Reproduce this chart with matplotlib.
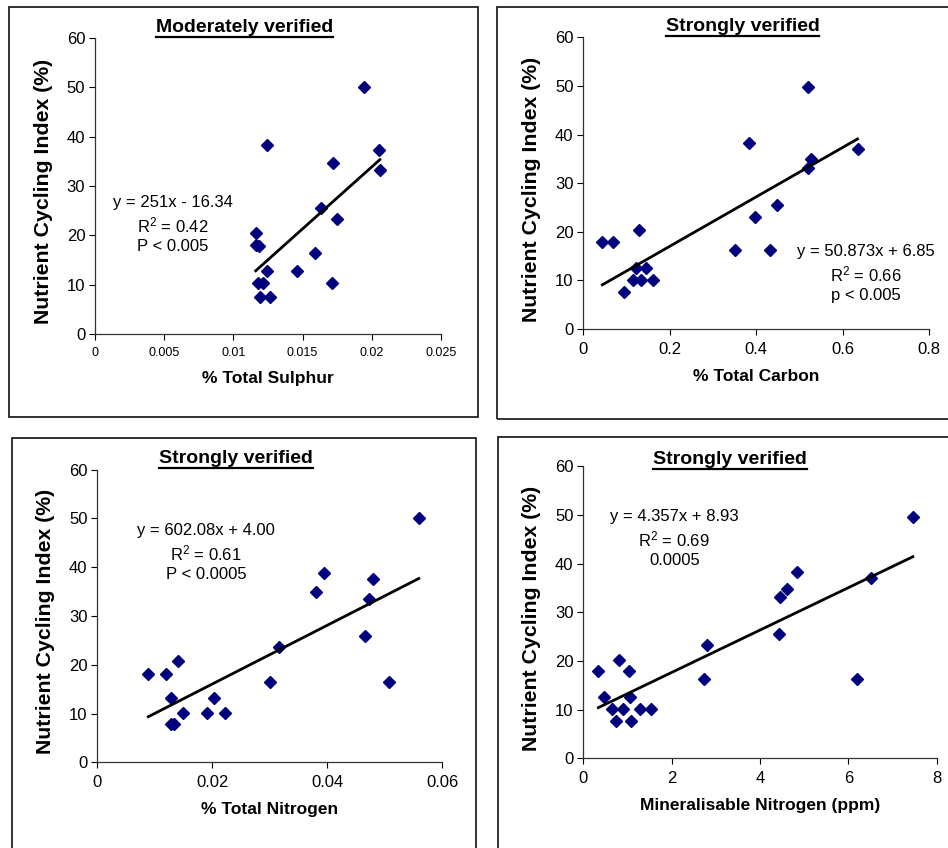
import matplotlib.pyplot as plt
import numpy as np
from matplotlib.lines import Line2D
from matplotlib.patches import Rectangle
from matplotlib.ticker import FuncFormatter

plt.rcParams['font.family'] = ['Liberation Sans', 'DejaVu Sans']
plt.rcParams['mathtext.fontset'] = 'custom'
plt.rcParams['mathtext.rm'] = 'Liberation Sans'
plt.rcParams['mathtext.it'] = 'Liberation Sans'

# % total sulphur vs NCI
sulphur = [0.01947, 0.01245, 0.0205, 0.01721, 0.02058, 0.0163, 0.0175, 0.01166, 0.01161,
           0.01185, 0.01589, 0.01245, 0.01459, 0.0118, 0.01216, 0.01712, 0.01195, 0.01264]
nci_s = [50, 38.3, 37.2, 34.7, 33.2, 25.6, 23.4, 20.4, 18.0,
         17.8, 16.5, 12.8, 12.8, 10.3, 10.3, 10.3, 7.6, 7.6]

# % total carbon vs NCI
carbon = [0.519, 0.383, 0.634, 0.526, 0.519, 0.449, 0.396, 0.129, 0.044,
          0.069, 0.351, 0.432, 0.122, 0.144, 0.116, 0.133, 0.160, 0.093]
nci_c = [49.7, 38.2, 37.0, 34.9, 33.2, 25.5, 23.1, 20.3, 17.8,
         17.8, 16.2, 16.2, 12.6, 12.6, 10.1, 10.1, 10.1, 7.7]

# % total nitrogen vs NCI
nitrogen = [0.0559, 0.0395, 0.0479, 0.0381, 0.0473, 0.0466, 0.0316, 0.0141, 0.00887, 0.0120,
            0.0300, 0.0508, 0.01275, 0.0203, 0.01496, 0.0190, 0.0222, 0.0129, 0.0133]
nci_n = [50, 38.7, 37.5, 35, 33.4, 25.8, 23.6, 20.8, 18.0, 18.0,
         16.5, 16.5, 13.1, 13.1, 10.2, 10.2, 10.2, 7.9, 7.9]

# mineralisable nitrogen (ppm) vs NCI
min_n = [7.46, 4.84, 6.51, 4.60, 4.45, 4.43, 2.79, 0.815, 0.34, 1.03,
         2.73, 6.20, 0.47, 1.06, 0.64, 0.89, 1.28, 1.53, 0.75, 1.09]
nci_m = [49.7, 38.2, 37.0, 34.9, 33.2, 25.5, 23.2, 20.3, 17.9, 17.9,
         16.3, 16.3, 12.7, 12.5, 10.1, 10.1, 10.1, 10.1, 7.7, 7.7]

slopes = [2511, 50.873, 602.08, 4.357]
intercepts = [-16.34, 6.85, 4.00, 8.93]
titles = ['Moderately verified', 'Strongly verified', 'Strongly verified', 'Strongly verified']
xlabels = ['% Total Sulphur', '% Total Carbon', '% Total Nitrogen', 'Mineralisable Nitrogen (ppm)']
eq_texts = ['y = 251x - 16.34\nR$^2$ = 0.42\nP < 0.005',
            'y = 50.873x + 6.85\nR$^2$ = 0.66\np < 0.005',
            'y = 602.08x + 4.00\nR$^2$ = 0.61\nP < 0.0005',
            'y = 4.357x + 8.93\nR$^2$ = 0.69\n0.0005']
xticks = [[0, 0.005, 0.01, 0.015, 0.02, 0.025], [0, 0.2, 0.4, 0.6, 0.8],
          [0, 0.02, 0.04, 0.06], [0, 2, 4, 6, 8]]
yticks = [0, 10, 20, 30, 40, 50, 60]

W, H = 948, 848
fig = plt.figure(figsize=(W / 100, H / 100), dpi=100)

# panel frames (pixels: x0, y0, x1, y1)
frames = [(9, 7, 478, 417), (497, 7, 960, 419), (12, 438, 476, 860), (498, 437, 960, 860)]
for x0, y0, x1, y1 in frames:
    fig.add_artist(Rectangle((x0 / W, 1 - y1 / H), (x1 - x0) / W, (y1 - y0) / H,
                             fill=False, ec='#222222', lw=1.3, transform=fig.transFigure))

# axes boxes (pixels: left, right, bottom(y=0), top(y=60))
boxes = [(95, 441, 334, 38), (583.3, 929.3, 329, 37.4), (97.3, 442.3, 762.3, 469.5), (583.3, 936.7, 758.3, 466.4)]
eq_pos = [(0.00564, 28.1), (0.654, 17.5), (0.0189, 49.0), (2.06, 51.2)]
title_pos = [(0.431, 1.034), (0.46, 1.036), (0.402, 1.036), (0.415, 1.025)]
xtick_size = [9, 12, 12, 12]

data = [(sulphur, nci_s), (carbon, nci_c), (nitrogen, nci_n), (min_n, nci_m)]
title_artists = []
for i, (x, y) in enumerate(data):
    l, r, b, t = boxes[i]
    ax = fig.add_axes([l / W, 1 - b / H, (r - l) / W, (b - t) / H])
    ax.plot(x, y, linestyle='none', marker='D', ms=6.3, color='#00007f')
    xs = np.array([min(x), max(x)])
    ax.plot(xs, slopes[i] * xs + intercepts[i], color='black', lw=2)
    ax.set_xlim(xticks[i][0], xticks[i][-1])
    ax.set_ylim(0, 60)
    ax.set_xticks(xticks[i])
    ax.set_yticks(yticks)
    ax.xaxis.set_major_formatter(FuncFormatter(lambda v, p: '%g' % v))
    ax.spines['top'].set_visible(False)
    ax.spines['right'].set_visible(False)
    for s in ['left', 'bottom']:
        ax.spines[s].set_color('#333333')
        ax.spines[s].set_linewidth(0.9)
    ax.tick_params(axis='y', direction='out', length=4, width=0.8, labelsize=12, pad=3)
    ax.tick_params(axis='x', direction='out', length=4, width=0.8, labelsize=xtick_size[i], pad=5)
    ax.set_xlabel(xlabels[i], fontsize=12.5, fontweight='bold', labelpad=9)
    ax.set_ylabel('Nutrient Cycling Index (%)', fontsize=15.3, fontweight='bold')
    ax.yaxis.set_label_coords(-42 / (r - l), 0.48)
    ax.text(eq_pos[i][0], eq_pos[i][1], eq_texts[i], ha='center', va='top',
            multialignment='center', fontsize=12, linespacing=1.3)
    tt = ax.text(title_pos[i][0], title_pos[i][1], titles[i], transform=ax.transAxes,
                 ha='center', va='center', fontsize=14, fontweight='bold')
    title_artists.append(tt)

# underline the titles
fig.canvas.draw()
renderer = fig.canvas.get_renderer()
for tt in title_artists:
    bb = tt.get_window_extent(renderer)
    yline = bb.y0 - 1
    fig.add_artist(Line2D([bb.x0 / W, bb.x1 / W], [yline / H, yline / H],
                          color='black', lw=1.6, transform=fig.transFigure))

fig.savefig('out.png', dpi=100)
